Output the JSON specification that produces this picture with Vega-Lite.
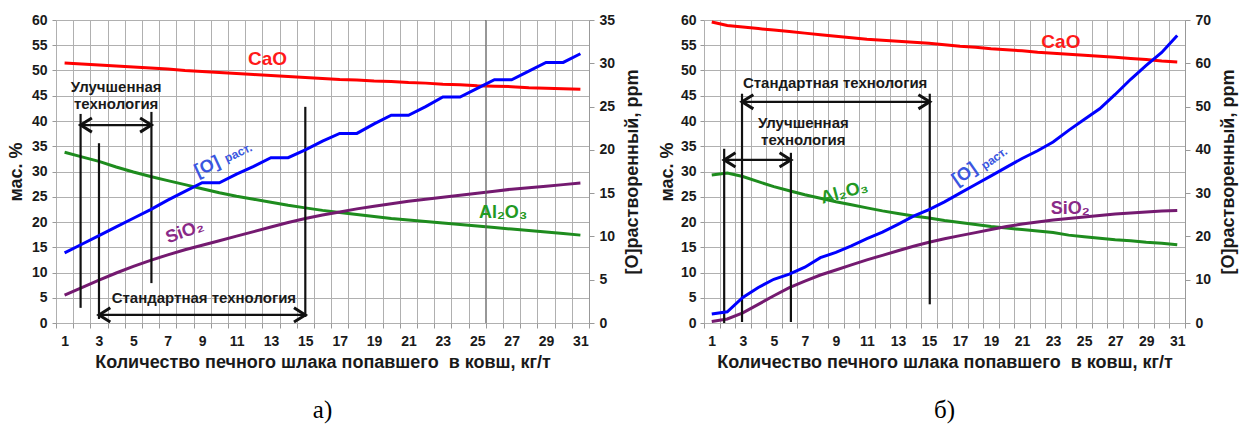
{
  "$schema": "https://vega.github.io/schema/vega-lite/v6.json",
  "background": "white",
  "padding": {"left": 7, "top": 13, "right": 3, "bottom": 3},
  "spacing": 16,
  "config": {
    "view": {"stroke": null},
    "font": "Liberation Sans",
    "axis": {
      "labelFont": "Liberation Sans", "labelFontWeight": "bold", "labelFontSize": 14, "labelColor": "#1a1a1a",
      "titleFont": "Liberation Sans", "titleFontWeight": "bold", "titleFontSize": 18, "titleColor": "#1a1a1a",
      "gridColor": "#b0b0b0", "gridWidth": 1, "domainColor": "#999999", "tickColor": "#999999"
    },
    "text": {"font": "Liberation Sans"}
  },
  "datasets": {
    "a": [
      {"x":1,"CaO":51.5,"Al2O3":33.8,"SiO2":5.5,"O":8.1},
      {"x":2,"CaO":51.3,"Al2O3":32.9,"SiO2":7.0,"O":9.1},
      {"x":3,"CaO":51.1,"Al2O3":32.0,"SiO2":8.5,"O":10.1},
      {"x":4,"CaO":50.9,"Al2O3":30.9,"SiO2":9.9,"O":11.1},
      {"x":5,"CaO":50.7,"Al2O3":29.9,"SiO2":11.2,"O":12.1},
      {"x":6,"CaO":50.5,"Al2O3":29.0,"SiO2":12.4,"O":13.1},
      {"x":7,"CaO":50.3,"Al2O3":28.2,"SiO2":13.5,"O":14.2},
      {"x":8,"CaO":50.0,"Al2O3":27.4,"SiO2":14.5,"O":15.2},
      {"x":9,"CaO":49.8,"Al2O3":26.6,"SiO2":15.4,"O":16.2},
      {"x":10,"CaO":49.6,"Al2O3":25.8,"SiO2":16.3,"O":16.2},
      {"x":11,"CaO":49.4,"Al2O3":25.1,"SiO2":17.2,"O":17.2},
      {"x":12,"CaO":49.2,"Al2O3":24.5,"SiO2":18.1,"O":18.1},
      {"x":13,"CaO":49.0,"Al2O3":23.9,"SiO2":19.0,"O":19.1},
      {"x":14,"CaO":48.8,"Al2O3":23.3,"SiO2":19.9,"O":19.1},
      {"x":15,"CaO":48.6,"Al2O3":22.8,"SiO2":20.7,"O":20.0},
      {"x":16,"CaO":48.4,"Al2O3":22.3,"SiO2":21.4,"O":21.0},
      {"x":17,"CaO":48.2,"Al2O3":21.9,"SiO2":22.0,"O":21.9},
      {"x":18,"CaO":48.1,"Al2O3":21.5,"SiO2":22.6,"O":21.9},
      {"x":19,"CaO":47.9,"Al2O3":21.1,"SiO2":23.1,"O":23.0},
      {"x":20,"CaO":47.8,"Al2O3":20.7,"SiO2":23.6,"O":24.0},
      {"x":21,"CaO":47.6,"Al2O3":20.4,"SiO2":24.1,"O":24.0},
      {"x":22,"CaO":47.5,"Al2O3":20.1,"SiO2":24.5,"O":25.0},
      {"x":23,"CaO":47.3,"Al2O3":19.8,"SiO2":24.9,"O":26.1},
      {"x":24,"CaO":47.2,"Al2O3":19.5,"SiO2":25.3,"O":26.1},
      {"x":25,"CaO":47.0,"Al2O3":19.2,"SiO2":25.7,"O":27.1},
      {"x":26,"CaO":46.9,"Al2O3":18.9,"SiO2":26.1,"O":28.1},
      {"x":27,"CaO":46.8,"Al2O3":18.6,"SiO2":26.5,"O":28.1},
      {"x":28,"CaO":46.6,"Al2O3":18.3,"SiO2":26.8,"O":29.1},
      {"x":29,"CaO":46.5,"Al2O3":18.0,"SiO2":27.1,"O":30.1},
      {"x":30,"CaO":46.4,"Al2O3":17.7,"SiO2":27.4,"O":30.1},
      {"x":31,"CaO":46.3,"Al2O3":17.4,"SiO2":27.7,"O":31.1}
    ],
    "b": [
      {"x":1,"CaO":59.6,"Al2O3":29.3,"SiO2":0.3,"O":2.1},
      {"x":2,"CaO":58.9,"Al2O3":29.7,"SiO2":0.8,"O":2.6},
      {"x":3,"CaO":58.6,"Al2O3":29.0,"SiO2":2.0,"O":5.9},
      {"x":4,"CaO":58.3,"Al2O3":28.0,"SiO2":3.7,"O":8.2},
      {"x":5,"CaO":58.0,"Al2O3":27.0,"SiO2":5.4,"O":10.1},
      {"x":6,"CaO":57.7,"Al2O3":26.2,"SiO2":7.0,"O":11.3},
      {"x":7,"CaO":57.4,"Al2O3":25.4,"SiO2":8.3,"O":12.9},
      {"x":8,"CaO":57.1,"Al2O3":24.7,"SiO2":9.5,"O":15.1},
      {"x":9,"CaO":56.8,"Al2O3":24.0,"SiO2":10.5,"O":16.3},
      {"x":10,"CaO":56.5,"Al2O3":23.4,"SiO2":11.5,"O":17.8},
      {"x":11,"CaO":56.2,"Al2O3":22.8,"SiO2":12.5,"O":19.5},
      {"x":12,"CaO":56.0,"Al2O3":22.2,"SiO2":13.4,"O":21.0},
      {"x":13,"CaO":55.8,"Al2O3":21.7,"SiO2":14.3,"O":22.8},
      {"x":14,"CaO":55.6,"Al2O3":21.2,"SiO2":15.2,"O":24.7},
      {"x":15,"CaO":55.4,"Al2O3":20.8,"SiO2":16.0,"O":26.2},
      {"x":16,"CaO":55.1,"Al2O3":20.3,"SiO2":16.7,"O":28.0},
      {"x":17,"CaO":54.8,"Al2O3":19.9,"SiO2":17.3,"O":30.0},
      {"x":18,"CaO":54.6,"Al2O3":19.5,"SiO2":17.9,"O":32.0},
      {"x":19,"CaO":54.3,"Al2O3":19.1,"SiO2":18.5,"O":34.0},
      {"x":20,"CaO":54.1,"Al2O3":18.8,"SiO2":19.1,"O":36.0},
      {"x":21,"CaO":53.9,"Al2O3":18.5,"SiO2":19.6,"O":38.0},
      {"x":22,"CaO":53.6,"Al2O3":18.2,"SiO2":20.0,"O":39.8},
      {"x":23,"CaO":53.4,"Al2O3":17.9,"SiO2":20.4,"O":41.8},
      {"x":24,"CaO":53.2,"Al2O3":17.4,"SiO2":20.7,"O":44.5},
      {"x":25,"CaO":53.0,"Al2O3":17.1,"SiO2":21.0,"O":47.0},
      {"x":26,"CaO":52.8,"Al2O3":16.8,"SiO2":21.3,"O":49.5},
      {"x":27,"CaO":52.6,"Al2O3":16.5,"SiO2":21.6,"O":52.8},
      {"x":28,"CaO":52.4,"Al2O3":16.3,"SiO2":21.8,"O":56.3},
      {"x":29,"CaO":52.2,"Al2O3":16.0,"SiO2":22.0,"O":59.5},
      {"x":30,"CaO":51.9,"Al2O3":15.8,"SiO2":22.2,"O":62.5},
      {"x":31,"CaO":51.7,"Al2O3":15.5,"SiO2":22.3,"O":66.4}
    ],
    "a_rules": [
      {"x":1.93,"x2":1.93,"y":3,"y2":41.4},
      {"x":3.0,"x2":3.0,"y":0.8,"y2":35.6},
      {"x":6.05,"x2":6.05,"y":7.9,"y2":41.8},
      {"x":15.0,"x2":15.0,"y":1.2,"y2":42.8},
      {"x":1.93,"x2":6.05,"y":39.2,"y2":39.2},
      {"x":3.0,"x2":15.0,"y":1.6,"y2":1.6}
    ],
    "a_heads": [
      {"x":1.93,"y":39.2,"d":"l"},
      {"x":6.05,"y":39.2,"d":"r"},
      {"x":3.0,"y":1.6,"d":"l"},
      {"x":15.0,"y":1.6,"d":"r"}
    ],
    "a_txt": [
      {"x":4.0,"y":46.7,"t":"Улучшенная"},
      {"x":4.0,"y":43.4,"t":"технология"},
      {"x":9.1,"y":5.0,"t":"Стандартная технология"}
    ],
    "b_rules": [
      {"x":1.8,"x2":1.8,"y":0,"y2":34.5},
      {"x":2.95,"x2":2.95,"y":0.2,"y2":45.4},
      {"x":6.1,"x2":6.1,"y":0.2,"y2":33.7},
      {"x":15.05,"x2":15.05,"y":3.7,"y2":45.4},
      {"x":2.95,"x2":15.05,"y":43.8,"y2":43.8},
      {"x":1.8,"x2":6.1,"y":32.3,"y2":32.3}
    ],
    "b_heads": [
      {"x":2.95,"y":43.8,"d":"l"},
      {"x":15.05,"y":43.8,"d":"r"},
      {"x":1.8,"y":32.3,"d":"l"},
      {"x":6.1,"y":32.3,"d":"r"}
    ],
    "b_txt": [
      {"x":8.95,"y":47.5,"t":"Стандартная технология"},
      {"x":6.9,"y":39.6,"t":"Улучшенная"},
      {"x":6.9,"y":36.3,"t":"технология"}
    ]
  },
  "hconcat": [
    {
      "width": 533, "height": 303,
      "title": {"text": "а)", "orient": "bottom", "frame": "group", "font": "Liberation Serif", "fontSize": 25, "fontWeight": "normal", "color": "#000000", "offset": 27},
      "encoding": {
        "x": {"field": "x", "type": "quantitative", "scale": {"domain": [0.5, 31.5], "nice": false, "zero": false},
              "axis": {"title": "Количество печного шлака попавшего\u00a0 в ковш, кг/т",
                       "values": [0.5,1,1.5,2,2.5,3,3.5,4,4.5,5,5.5,6,6.5,7,7.5,8,8.5,9,9.5,10,10.5,11,11.5,12,12.5,13,13.5,14,14.5,15,15.5,16,16.5,17,17.5,18,18.5,19,19.5,20,20.5,21,21.5,22,22.5,23,23.5,24,24.5,25,25.5,26,26.5,27,27.5,28,28.5,29,29.5,30,30.5,31,31.5],
                       "labelExpr": "datum.value % 2 == 1 ? '' + datum.value : ''",
                       "labelOverlap": false, "labelFlush": false, "grid": true, "domain": false,
                       "gridOpacity": {"condition": {"test": "datum.value % 1 != 0", "value": 1}, "value": 0},
                       "tickOpacity": {"condition": {"test": "datum.value % 1 != 0", "value": 1}, "value": 0},
                       "tickSize": 5, "labelPadding": 6, "titlePadding": 5}}
      },
      "layer": [
        {
          "encoding": {
            "y": {"field": "y", "type": "quantitative", "scale": {"domain": [0, 60], "nice": false},
                  "axis": {"title": "мас. %", "values": [0,5,10,15,20,25,30,35,40,45,50,55,60], "grid": true, "domain": false, "tickSize": 4, "labelPadding": 5, "titlePadding": 6}}
          },
          "layer": [
            {"data": {"name": "a"}, "transform": [{"fold": ["CaO", "Al2O3", "SiO2"], "as": ["s", "y"]}],
             "mark": {"type": "line", "strokeWidth": 3},
             "encoding": {"color": {"field": "s", "type": "nominal", "scale": {"domain": ["CaO", "Al2O3", "SiO2"], "range": ["#ff0000", "#1e8c1e", "#741a70"]}, "legend": null}}},
            {"data": {"values": [{"x": 25.5, "x2": 25.5, "y": 0, "y2": 60}]}, "mark": {"type": "rule", "color": "#666666", "strokeWidth": 1},
             "encoding": {"x2": {"field": "x2"}, "y2": {"field": "y2"}}},
            {"data": {"name": "a_rules"}, "mark": {"type": "rule", "color": "#111111", "strokeWidth": 2.2},
             "encoding": {"x2": {"field": "x2"}, "y2": {"field": "y2"}}},
            {"data": {"name": "a_heads"}, "mark": {"type": "point", "filled": false, "size": 200, "strokeWidth": 3, "color": "#111111", "opacity": 1},
             "encoding": {"shape": {"field": "d", "type": "nominal", "scale": {"domain": ["l", "r"], "range": ["M 1.6 -1 L 0 0 L 1.6 1", "M -1.6 -1 L 0 0 L -1.6 1"]}, "legend": null}}},
            {"data": {"name": "a_txt"}, "mark": {"type": "text", "fontSize": 15, "fontWeight": "bold", "color": "#1a1a1a", "align": "center", "baseline": "middle"},
             "encoding": {"text": {"field": "t"}}},
            {"data": {"values": [{"x": 12.8, "y": 52.2, "t": "CaO"}]}, "mark": {"type": "text", "fontSize": 19, "fontWeight": "bold", "color": "#ff1a1a", "align": "center", "baseline": "middle"},
             "encoding": {"text": {"field": "t"}}},
            {"data": {"values": [{"x": 8.0, "y": 18.0, "t": "SiO₂"}]}, "mark": {"type": "text", "fontSize": 18, "fontWeight": "bold", "color": "#8a2a88", "align": "center", "baseline": "middle", "angle": -20},
             "encoding": {"text": {"field": "t"}}},
            {"data": {"values": [{"x": 26.5, "y": 21.8, "t": "Al₂O₃"}]}, "mark": {"type": "text", "fontSize": 18, "fontWeight": "bold", "color": "#229922", "align": "center", "baseline": "middle"},
             "encoding": {"text": {"field": "t"}}},
            {"data": {"values": [{"x": 9.3, "y": 30.9, "t": "[O]"}]}, "mark": {"type": "text", "fontSize": 18, "fontWeight": "bold", "color": "#3a56e0", "align": "center", "baseline": "middle", "angle": -25},
             "encoding": {"text": {"field": "t"}}},
            {"data": {"values": [{"x": 11.1, "y": 33.7, "t": "раст."}]}, "mark": {"type": "text", "fontSize": 12, "fontWeight": "bold", "color": "#3a56e0", "align": "center", "baseline": "middle", "angle": -25},
             "encoding": {"text": {"field": "t"}}}
          ]
        },
        {"data": {"name": "a"}, "mark": {"type": "line", "color": "#0000ff", "strokeWidth": 3},
         "encoding": {
           "y": {"field": "O", "type": "quantitative", "scale": {"domain": [0, 35], "nice": false},
                 "axis": {"title": "[O]растворенный, ppm", "orient": "right", "values": [0,5,10,15,20,25,30,35], "grid": false, "domain": true, "tickSize": 5, "labelPadding": 5, "titlePadding": 9, "titleAngle": 270, "titleBaseline": "top"}}
         }}
      ],
      "resolve": {"scale": {"y": "independent"}}
    },
    {
      "width": 481, "height": 303,
      "title": {"text": "б)", "orient": "bottom", "frame": "group", "font": "Liberation Serif", "fontSize": 25, "fontWeight": "normal", "color": "#000000", "offset": 27},
      "encoding": {
        "x": {"field": "x", "type": "quantitative", "scale": {"domain": [0.5, 31.5], "nice": false, "zero": false},
              "axis": {"title": "Количество печного шлака попавшего\u00a0 в ковш, кг/т",
                       "values": [0.5,1,1.5,2,2.5,3,3.5,4,4.5,5,5.5,6,6.5,7,7.5,8,8.5,9,9.5,10,10.5,11,11.5,12,12.5,13,13.5,14,14.5,15,15.5,16,16.5,17,17.5,18,18.5,19,19.5,20,20.5,21,21.5,22,22.5,23,23.5,24,24.5,25,25.5,26,26.5,27,27.5,28,28.5,29,29.5,30,30.5,31,31.5],
                       "labelExpr": "datum.value % 2 == 1 ? '' + datum.value : ''",
                       "labelOverlap": false, "labelFlush": false, "grid": true, "domain": false,
                       "gridOpacity": {"condition": {"test": "datum.value % 1 != 0", "value": 1}, "value": 0},
                       "tickOpacity": {"condition": {"test": "datum.value % 1 != 0", "value": 1}, "value": 0},
                       "tickSize": 5, "labelPadding": 6, "titlePadding": 5}}
      },
      "layer": [
        {
          "encoding": {
            "y": {"field": "y", "type": "quantitative", "scale": {"domain": [0, 60], "nice": false},
                  "axis": {"title": "мас. %", "values": [0,5,10,15,20,25,30,35,40,45,50,55,60], "grid": true, "domain": false, "tickSize": 4, "labelPadding": 4, "titlePadding": 4}}
          },
          "layer": [
            {"data": {"name": "b"}, "transform": [{"fold": ["CaO", "Al2O3", "SiO2"], "as": ["s", "y"]}],
             "mark": {"type": "line", "strokeWidth": 3},
             "encoding": {"color": {"field": "s", "type": "nominal", "scale": {"domain": ["CaO", "Al2O3", "SiO2"], "range": ["#ff0000", "#1e8c1e", "#741a70"]}, "legend": null}}},
            {"data": {"name": "b_rules"}, "mark": {"type": "rule", "color": "#111111", "strokeWidth": 2.2},
             "encoding": {"x2": {"field": "x2"}, "y2": {"field": "y2"}}},
            {"data": {"name": "b_heads"}, "mark": {"type": "point", "filled": false, "size": 200, "strokeWidth": 3, "color": "#111111", "opacity": 1},
             "encoding": {"shape": {"field": "d", "type": "nominal", "scale": {"domain": ["l", "r"], "range": ["M 1.6 -1 L 0 0 L 1.6 1", "M -1.6 -1 L 0 0 L -1.6 1"]}, "legend": null}}},
            {"data": {"name": "b_txt"}, "mark": {"type": "text", "fontSize": 15, "fontWeight": "bold", "color": "#1a1a1a", "align": "center", "baseline": "middle"},
             "encoding": {"text": {"field": "t"}}},
            {"data": {"values": [{"x": 23.5, "y": 55.6, "t": "CaO"}]}, "mark": {"type": "text", "fontSize": 19, "fontWeight": "bold", "color": "#ff1a1a", "align": "center", "baseline": "middle"},
             "encoding": {"text": {"field": "t"}}},
            {"data": {"values": [{"x": 24.1, "y": 22.6, "t": "SiO₂"}]}, "mark": {"type": "text", "fontSize": 18, "fontWeight": "bold", "color": "#8a2a88", "align": "center", "baseline": "middle"},
             "encoding": {"text": {"field": "t"}}},
            {"data": {"values": [{"x": 9.55, "y": 25.8, "t": "Al₂O₃"}]}, "mark": {"type": "text", "fontSize": 18, "fontWeight": "bold", "color": "#229922", "align": "center", "baseline": "middle", "angle": -15},
             "encoding": {"text": {"field": "t"}}},
            {"data": {"values": [{"x": 17.3, "y": 29.4, "t": "[O]"}]}, "mark": {"type": "text", "fontSize": 18, "fontWeight": "bold", "color": "#3a56e0", "align": "center", "baseline": "middle", "angle": -35},
             "encoding": {"text": {"field": "t"}}},
            {"data": {"values": [{"x": 19.2, "y": 32.6, "t": "раст."}]}, "mark": {"type": "text", "fontSize": 12, "fontWeight": "bold", "color": "#3a56e0", "align": "center", "baseline": "middle", "angle": -35},
             "encoding": {"text": {"field": "t"}}}
          ]
        },
        {"data": {"name": "b"}, "mark": {"type": "line", "color": "#0000ff", "strokeWidth": 3},
         "encoding": {
           "y": {"field": "O", "type": "quantitative", "scale": {"domain": [0, 70], "nice": false},
                 "axis": {"title": "[O]растворенный, ppm", "orient": "right", "values": [0,10,20,30,40,50,60,70], "grid": false, "domain": true, "tickSize": 5, "labelPadding": 5, "titlePadding": 9, "titleAngle": 270, "titleBaseline": "top"}}
         }}
      ],
      "resolve": {"scale": {"y": "independent"}}
    }
  ]
}
